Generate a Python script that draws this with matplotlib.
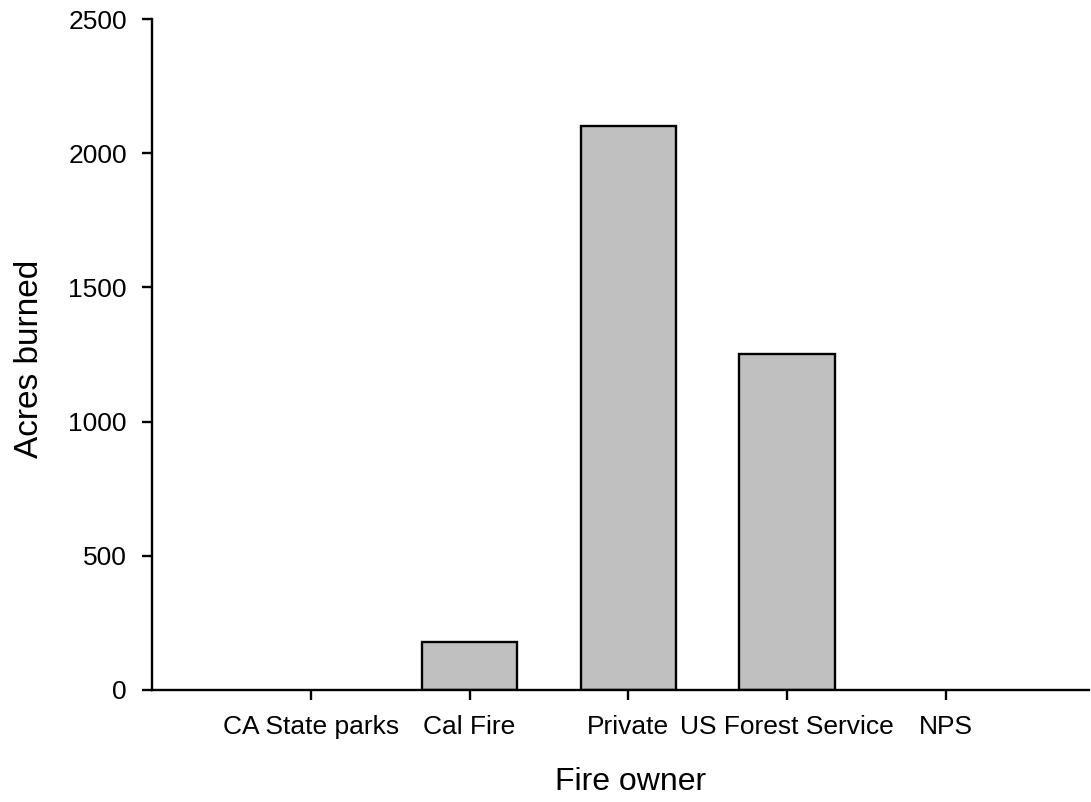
import matplotlib
matplotlib.use("Agg")
import matplotlib.pyplot as plt

# Acres burned per fire owner
owners = ["CA State parks", "Cal Fire", "Private", "US Forest Service", "NPS"]
acres = [0, 180, 2100, 1250, 0]
y_ticks = [0, 500, 1000, 1500, 2000, 2500]

plt.rcParams['font.family'] = ['Liberation Sans', 'DejaVu Sans']

fig = plt.figure(figsize=(10.91, 8.02), dpi=100)
ax = fig.add_axes([0.1393, 0.1397, 0.8587, 0.8366])

pos = list(range(len(owners)))
# empty bars get no outline so the baseline stays clean
edge_w = [1.7 if v > 0 else 0 for v in acres]
ax.bar(pos, acres, width=0.6, color='#c0c0c0', edgecolor='black', linewidth=edge_w, zorder=2)

ax.set_xlim(-1.0, 4.9)
ax.set_ylim(0, 2500)
ax.set_xticks(pos)
ax.set_xticklabels(owners)
ax.set_yticks(y_ticks)

for side in ['top', 'right']:
    ax.spines[side].set_visible(False)
for side in ['left', 'bottom']:
    ax.spines[side].set_linewidth(1.7)
    ax.spines[side].set_zorder(3)

ax.tick_params(axis='both', direction='out', length=7.5, width=1.7, labelsize=19, pad=10.5)

ax.set_xlabel("Fire owner", fontsize=23)
ax.set_ylabel("Acres burned", fontsize=24)
ax.xaxis.set_label_coords(0.511, -0.115)
ax.yaxis.set_label_coords(-0.114, 0.493)

fig.savefig("out.png", dpi=100)
